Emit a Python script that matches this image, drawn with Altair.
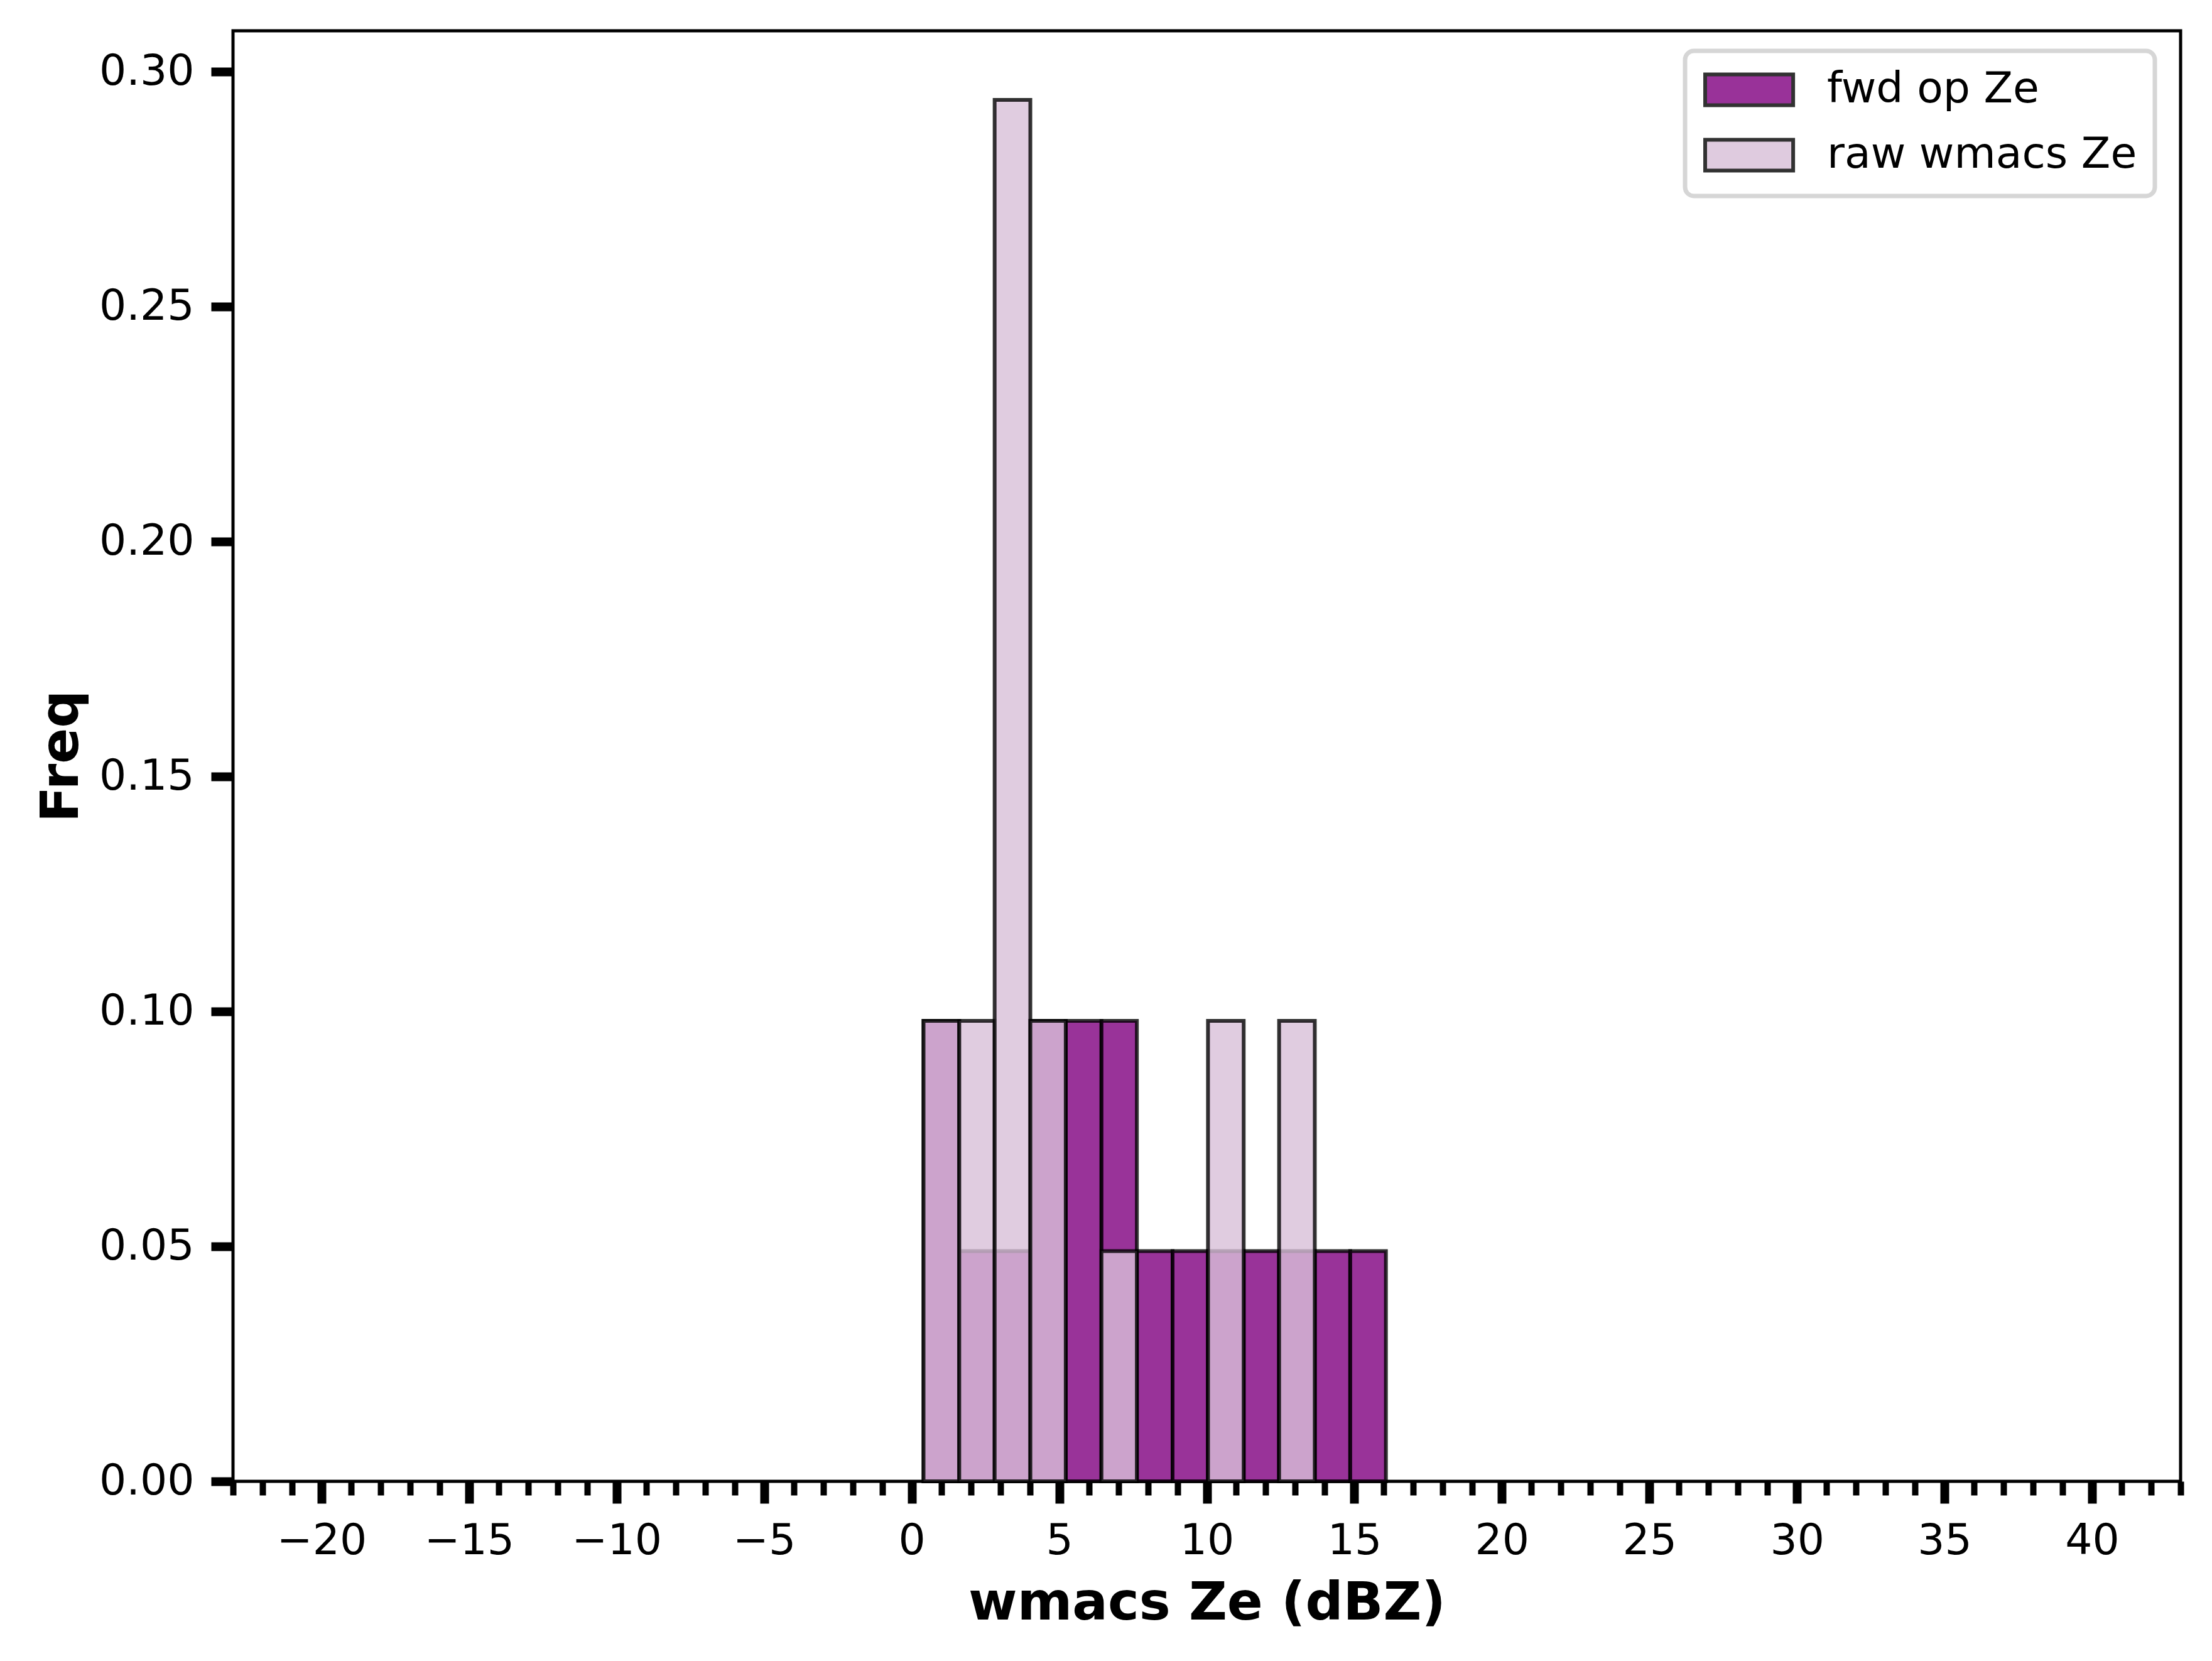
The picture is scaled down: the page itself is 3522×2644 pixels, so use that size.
import altair as alt
import pandas as pd

# ---- data ----
series_names = ["fwd op Ze", "raw wmacs Ze"]
bin_edges = [0.40, 1.61, 2.81, 4.02, 5.22, 6.43, 7.63, 8.84, 10.04, 11.25, 12.45, 13.66, 14.86, 16.07]
fwd_freq = [0.098, 0.049, 0.049, 0.098, 0.098, 0.098, 0.049, 0.049, 0.049, 0.049, 0.049, 0.049, 0.049]
raw_freq = [0.098, 0.098, 0.294, 0.098, 0.0, 0.049, 0.0, 0.0, 0.098, 0.0, 0.098, 0.0, 0.0]
x_major_ticks = [-20, -15, -10, -5, 0, 5, 10, 15, 20, 25, 30, 35, 40]
x_all_ticks = list(range(-23, 44))
y_ticks = [0.0, 0.05, 0.10, 0.15, 0.20, 0.25, 0.30]
fill_colors = ["#800080", "#d8bfd8"]


def table(name, freqs):
    rows = []
    for i, f in enumerate(freqs):
        if f > 0:
            rows.append({"series": name, "bin_start": bin_edges[i],
                         "bin_end": bin_edges[i + 1], "freq": f, "base": 0.0})
    return pd.DataFrame(rows)


df_fwd = table(series_names[0], fwd_freq)
df_raw = table(series_names[1], raw_freq)

FONT = "DejaVu Sans"
major_test = "indexof([" + ",".join(str(v) for v in x_major_ticks) + "], datum.value) >= 0"

x_scale = alt.Scale(domain=[-23, 43], nice=False, zero=False)
y_scale = alt.Scale(domain=[0, 0.3087], nice=False, zero=True)
fill_scale = alt.Scale(domain=series_names, range=fill_colors)

x_axis = alt.Axis(
    values=x_all_ticks,
    title="wmacs Ze (dBZ)",
    labelExpr="(" + major_test + ") ? replace(format(datum.value, 'd'), '-', '\u2212') : ''",
    labelOverlap=False,
    labelFlush=False,
    labelFont=FONT, labelFontSize=68, labelColor="black",
    labelPadding=26,
    tickColor="black",
    tickSize={"condition": {"test": major_test, "value": 35}, "value": 22},
    tickWidth={"condition": {"test": major_test, "value": 14}, "value": 10},
    domain=False, grid=False,
    titleFont=FONT, titleFontSize=84, titleFontWeight="bold", titleColor="black",
    titlePadding=24,
)

y_axis = alt.Axis(
    values=y_ticks,
    format=".2f",
    title="Freq",
    labelFont=FONT, labelFontSize=68, labelColor="black",
    labelPadding=27,
    tickColor="black", tickSize=35, tickWidth=14,
    domain=False, grid=False,
    titleFont=FONT, titleFontSize=84, titleFontWeight="bold", titleColor="black",
    titlePadding=30,
)

legend = alt.Legend(
    title=None,
    orient="none", legendX=2312, legendY=32,
    symbolType="M-1,-0.817H3.67V0.817H-1Z",
    symbolSize=3600,
    symbolStrokeColor="black", symbolStrokeWidth=6, symbolOpacity=0.8,
    labelFont=FONT, labelFontSize=68, labelColor="black", labelLimit=2000,
    labelOffset=130,
    rowPadding=30,
    padding=28,
    fillColor="white", strokeColor="#d6d6d6", cornerRadius=14,
)

bar_style = dict(stroke="black", strokeWidth=6, strokeOpacity=0.8, fillOpacity=0.8)


def bars(df):
    return alt.Chart(df).mark_bar(**bar_style).encode(
        x=alt.X("bin_start:Q", scale=x_scale, axis=x_axis),
        x2="bin_end:Q",
        y=alt.Y("freq:Q", scale=y_scale, axis=y_axis),
        y2="base:Q",
        fill=alt.Fill("series:N", scale=fill_scale, legend=legend),
    )


chart = (
    alt.layer(bars(df_fwd), bars(df_raw))
    .properties(
        width=3101, height=2309,
        autosize=alt.AutoSizeParams(type="none"),
        padding={"left": 363, "top": 41, "right": 35, "bottom": 270},
        background="white",
    )
    .configure_view(stroke="black", strokeWidth=5)
    .configure_legend(strokeWidth=7)
)

chart.save("out.html", embed_options={"renderer": "svg", "actions": False})
